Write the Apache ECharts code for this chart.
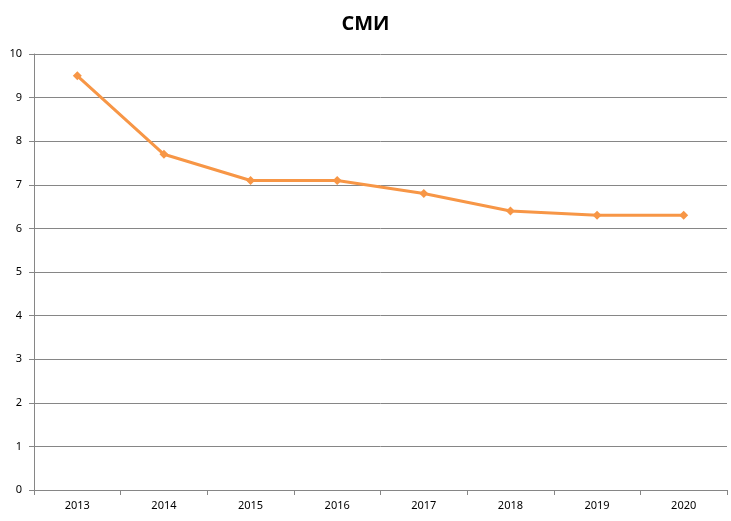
<!DOCTYPE html>
<html><head><meta charset="utf-8">
<script src="https://cdn.jsdelivr.net/npm/echarts@6/dist/echarts.min.js"></script>
<style>html,body{margin:0;padding:0;background:#fff}#c{width:731px;height:521px}</style>
</head><body><div id="c"></div>
<script>
const title = "СМИ";
const categories = ["2013","2014","2015","2016","2017","2018","2019","2020"];
const values = [9.5, 7.7, 7.1, 7.1, 6.8, 6.4, 6.3, 6.3];
const yTicks = [0,1,2,3,4,5,6,7,8,9,10];

const chart = echarts.init(document.getElementById('c'), null, {renderer:'canvas'});
chart.setOption({
  animation:false,
  backgroundColor:'#fff',
  title:{text:title,left:'center',top:9,textStyle:{fontFamily:'Open Sans',fontWeight:'bold',fontSize:20,color:'#000'}},
  grid:{left:34,right:4,top:54,bottom:31,containLabel:false},
  xAxis:{type:'category',data:categories,boundaryGap:true,
    axisLine:{lineStyle:{color:'#868686',width:1}},
    axisTick:{show:true,interval:0,length:5,inside:false,lineStyle:{color:'#868686'}},
    axisLabel:{fontFamily:'Noto Sans',fontSize:11,color:'#000',margin:10}},
  yAxis:{type:'value',min:yTicks[0],max:yTicks[yTicks.length-1],interval:1,
    axisLine:{show:true,lineStyle:{color:'#868686',width:1}},
    axisTick:{show:true,length:5,lineStyle:{color:'#868686'}},
    splitLine:{lineStyle:{color:'#868686',width:1}},
    axisLabel:{fontFamily:'Noto Sans',fontSize:11,color:'#000',margin:12}},
  series:[{type:'line',data:values,symbol:'diamond',symbolSize:9,
    lineStyle:{color:'#F79646',width:3},itemStyle:{color:'#F79646'}}]
});
</script></body></html>
